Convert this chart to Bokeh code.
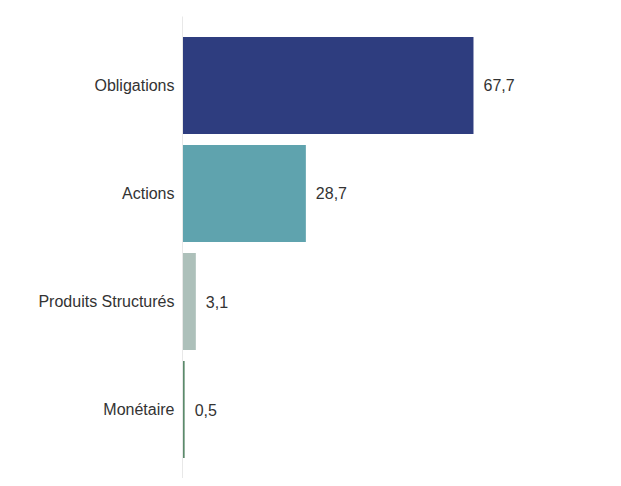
from bokeh.plotting import figure
from bokeh.models import ColumnDataSource, FactorRange, Range1d, LabelSet
from bokeh.embed import file_html
from bokeh.resources import INLINE
from bokeh.core.properties import value

# Data (top to bottom as displayed)
categories = ["Obligations", "Actions", "Produits Structurés", "Monétaire"]
values = [67.7, 28.7, 3.1, 0.5]
colors = ["#2e3d7f", "#5fa3ae", "#adc0ba", "#5b8a6b"]
value_labels = [f"{v:.1f}".replace(".", ",") for v in values]

source = ColumnDataSource(dict(cat=categories, val=values, color=colors, lbl=value_labels))

y_range = FactorRange(factors=list(reversed(categories)), range_padding=0.0694,
                      range_padding_units="percent")

p = figure(width=613, height=478, y_range=y_range, x_range=Range1d(0, 97.25),
           output_backend="svg", toolbar_location=None,
           min_border_left=182, min_border_right=13, min_border_top=16, min_border_bottom=0)

p.hbar(y="cat", right="val", left=0, height=0.9, color="color", line_color=None, source=source)

labels = LabelSet(x="val", y="cat", text="lbl", source=source, x_offset=10,
                  text_baseline="middle", text_align="left",
                  text_font=value("Liberation Sans"), text_font_size="16px", text_color="#333333")
p.add_layout(labels)

p.xaxis.visible = False
p.xgrid.visible = False
p.ygrid.visible = False
p.outline_line_color = None

ax = p.yaxis[0]
ax.axis_line_color = "#e8e8e8"
ax.axis_line_width = 1
ax.major_tick_line_color = None
ax.minor_tick_line_color = None
ax.major_tick_out = 0
ax.major_tick_in = 0
ax.major_label_standoff = 8
ax.major_label_text_font = "Liberation Sans"
ax.major_label_text_font_size = "16px"
ax.major_label_text_color = "#333333"

p.background_fill_color = "white"
p.border_fill_color = "white"

open("out.html", "w").write(file_html(p, INLINE))
